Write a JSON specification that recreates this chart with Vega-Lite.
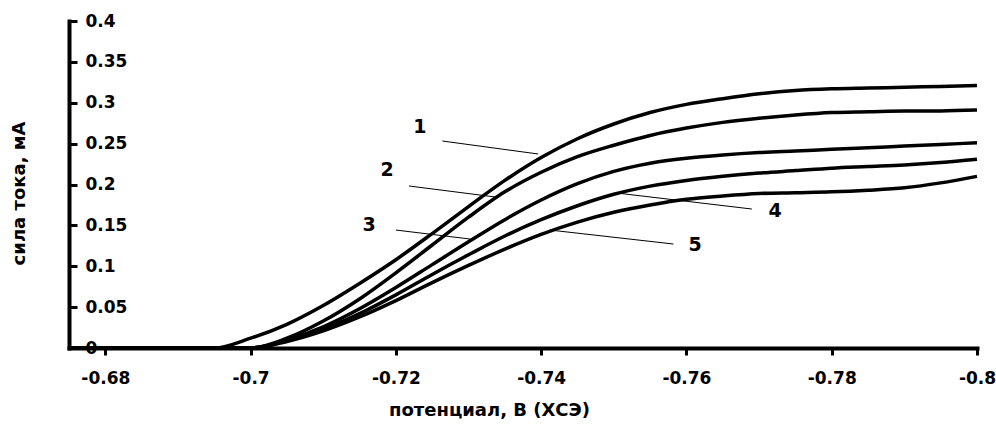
{
  "$schema": "https://vega.github.io/schema/vega-lite/v6.json",
  "width": 908,
  "height": 327,
  "autosize": {"type": "none"},
  "padding": {"left": 69, "top": 21, "right": 19, "bottom": 77},
  "config": {"view": {"stroke": null}, "font": "DejaVu Sans", "axis": {"grid": false}},
  "datasets": {
    "curves": [
      {"curve": "1", "potential": -0.675, "current": 0},
      {"curve": "1", "potential": -0.695, "current": 0},
      {"curve": "1", "potential": -0.700, "current": 0.012},
      {"curve": "1", "potential": -0.705, "current": 0.029},
      {"curve": "1", "potential": -0.710, "current": 0.052},
      {"curve": "1", "potential": -0.715, "current": 0.079},
      {"curve": "1", "potential": -0.720, "current": 0.108},
      {"curve": "1", "potential": -0.725, "current": 0.140},
      {"curve": "1", "potential": -0.730, "current": 0.173},
      {"curve": "1", "potential": -0.735, "current": 0.205},
      {"curve": "1", "potential": -0.740, "current": 0.233},
      {"curve": "1", "potential": -0.745, "current": 0.256},
      {"curve": "1", "potential": -0.750, "current": 0.274},
      {"curve": "1", "potential": -0.755, "current": 0.288},
      {"curve": "1", "potential": -0.760, "current": 0.298},
      {"curve": "1", "potential": -0.765, "current": 0.305},
      {"curve": "1", "potential": -0.770, "current": 0.311},
      {"curve": "1", "potential": -0.775, "current": 0.315},
      {"curve": "1", "potential": -0.780, "current": 0.317},
      {"curve": "1", "potential": -0.785, "current": 0.318},
      {"curve": "1", "potential": -0.790, "current": 0.319},
      {"curve": "1", "potential": -0.795, "current": 0.320},
      {"curve": "1", "potential": -0.800, "current": 0.321},
      {"curve": "2", "potential": -0.675, "current": 0},
      {"curve": "2", "potential": -0.700, "current": 0},
      {"curve": "2", "potential": -0.705, "current": 0.012},
      {"curve": "2", "potential": -0.710, "current": 0.033},
      {"curve": "2", "potential": -0.715, "current": 0.060},
      {"curve": "2", "potential": -0.720, "current": 0.092},
      {"curve": "2", "potential": -0.725, "current": 0.126},
      {"curve": "2", "potential": -0.730, "current": 0.160},
      {"curve": "2", "potential": -0.735, "current": 0.191},
      {"curve": "2", "potential": -0.740, "current": 0.215},
      {"curve": "2", "potential": -0.745, "current": 0.234},
      {"curve": "2", "potential": -0.750, "current": 0.248},
      {"curve": "2", "potential": -0.755, "current": 0.260},
      {"curve": "2", "potential": -0.760, "current": 0.269},
      {"curve": "2", "potential": -0.765, "current": 0.276},
      {"curve": "2", "potential": -0.770, "current": 0.281},
      {"curve": "2", "potential": -0.775, "current": 0.285},
      {"curve": "2", "potential": -0.780, "current": 0.288},
      {"curve": "2", "potential": -0.785, "current": 0.289},
      {"curve": "2", "potential": -0.790, "current": 0.290},
      {"curve": "2", "potential": -0.795, "current": 0.290},
      {"curve": "2", "potential": -0.800, "current": 0.291},
      {"curve": "3", "potential": -0.675, "current": 0},
      {"curve": "3", "potential": -0.700, "current": 0},
      {"curve": "3", "potential": -0.705, "current": 0.010},
      {"curve": "3", "potential": -0.710, "current": 0.026},
      {"curve": "3", "potential": -0.715, "current": 0.048},
      {"curve": "3", "potential": -0.720, "current": 0.074},
      {"curve": "3", "potential": -0.725, "current": 0.102},
      {"curve": "3", "potential": -0.730, "current": 0.130},
      {"curve": "3", "potential": -0.735, "current": 0.157},
      {"curve": "3", "potential": -0.740, "current": 0.181},
      {"curve": "3", "potential": -0.745, "current": 0.201},
      {"curve": "3", "potential": -0.750, "current": 0.216},
      {"curve": "3", "potential": -0.755, "current": 0.226},
      {"curve": "3", "potential": -0.760, "current": 0.232},
      {"curve": "3", "potential": -0.765, "current": 0.236},
      {"curve": "3", "potential": -0.770, "current": 0.239},
      {"curve": "3", "potential": -0.775, "current": 0.241},
      {"curve": "3", "potential": -0.780, "current": 0.243},
      {"curve": "3", "potential": -0.785, "current": 0.245},
      {"curve": "3", "potential": -0.790, "current": 0.247},
      {"curve": "3", "potential": -0.795, "current": 0.249},
      {"curve": "3", "potential": -0.800, "current": 0.251},
      {"curve": "4", "potential": -0.675, "current": 0},
      {"curve": "4", "potential": -0.700, "current": 0},
      {"curve": "4", "potential": -0.705, "current": 0.009},
      {"curve": "4", "potential": -0.710, "current": 0.023},
      {"curve": "4", "potential": -0.715, "current": 0.042},
      {"curve": "4", "potential": -0.720, "current": 0.065},
      {"curve": "4", "potential": -0.725, "current": 0.090},
      {"curve": "4", "potential": -0.730, "current": 0.114},
      {"curve": "4", "potential": -0.735, "current": 0.137},
      {"curve": "4", "potential": -0.740, "current": 0.157},
      {"curve": "4", "potential": -0.745, "current": 0.174},
      {"curve": "4", "potential": -0.750, "current": 0.188},
      {"curve": "4", "potential": -0.755, "current": 0.198},
      {"curve": "4", "potential": -0.760, "current": 0.205},
      {"curve": "4", "potential": -0.765, "current": 0.210},
      {"curve": "4", "potential": -0.770, "current": 0.214},
      {"curve": "4", "potential": -0.775, "current": 0.217},
      {"curve": "4", "potential": -0.780, "current": 0.220},
      {"curve": "4", "potential": -0.785, "current": 0.222},
      {"curve": "4", "potential": -0.790, "current": 0.224},
      {"curve": "4", "potential": -0.795, "current": 0.227},
      {"curve": "4", "potential": -0.800, "current": 0.231},
      {"curve": "5", "potential": -0.675, "current": 0},
      {"curve": "5", "potential": -0.700, "current": 0},
      {"curve": "5", "potential": -0.705, "current": 0.008},
      {"curve": "5", "potential": -0.710, "current": 0.021},
      {"curve": "5", "potential": -0.715, "current": 0.038},
      {"curve": "5", "potential": -0.720, "current": 0.058},
      {"curve": "5", "potential": -0.725, "current": 0.080},
      {"curve": "5", "potential": -0.730, "current": 0.101},
      {"curve": "5", "potential": -0.735, "current": 0.121},
      {"curve": "5", "potential": -0.740, "current": 0.139},
      {"curve": "5", "potential": -0.745, "current": 0.154},
      {"curve": "5", "potential": -0.750, "current": 0.166},
      {"curve": "5", "potential": -0.755, "current": 0.175},
      {"curve": "5", "potential": -0.760, "current": 0.182},
      {"curve": "5", "potential": -0.765, "current": 0.186},
      {"curve": "5", "potential": -0.770, "current": 0.189},
      {"curve": "5", "potential": -0.775, "current": 0.190},
      {"curve": "5", "potential": -0.780, "current": 0.191},
      {"curve": "5", "potential": -0.785, "current": 0.193},
      {"curve": "5", "potential": -0.790, "current": 0.196},
      {"curve": "5", "potential": -0.795, "current": 0.202},
      {"curve": "5", "potential": -0.800, "current": 0.210}
    ],
    "leaders": [
      {"x1": -0.7264, "y1": 0.2532, "x2": -0.7396, "y2": 0.2373},
      {"x1": -0.7218, "y1": 0.1982, "x2": -0.7337, "y2": 0.1847},
      {"x1": -0.7200, "y1": 0.1443, "x2": -0.7302, "y2": 0.1333},
      {"x1": -0.7504, "y1": 0.1896, "x2": -0.7690, "y2": 0.1700},
      {"x1": -0.7412, "y1": 0.1443, "x2": -0.7582, "y2": 0.1272}
    ],
    "labels": [
      {"label": "1", "x": -0.7233, "y": 0.2703},
      {"label": "2", "x": -0.7188, "y": 0.2177},
      {"label": "3", "x": -0.7163, "y": 0.1505},
      {"label": "4", "x": -0.7722, "y": 0.1676},
      {"label": "5", "x": -0.7612, "y": 0.1260}
    ]
  },
  "layer": [
    {
      "data": {"name": "curves"},
      "mark": {"type": "line", "color": "black", "strokeWidth": 3.5, "interpolate": "monotone"},
      "encoding": {
        "x": {
          "field": "potential", "type": "quantitative",
          "scale": {"domain": [-0.8, -0.675], "reverse": true, "nice": false, "zero": false},
          "axis": {
            "orient": "bottom",
            "values": [-0.68, -0.7, -0.72, -0.74, -0.76, -0.78, -0.8],
            "labelExpr": "'' + datum.value",
            "domainWidth": 4, "domainColor": "black", "domainCap": "square",
            "tickColor": "black", "tickWidth": 3, "tickSize": 7,
            "labelFont": "DejaVu Sans", "labelFontWeight": "bold", "labelFontSize": 17, "labelColor": "black",
            "labelPadding": 15, "labelFlush": false, "labelOverlap": false,
            "title": "потенциал, В (ХСЭ)",
            "titleFont": "DejaVu Sans", "titleFontSize": 18, "titleFontWeight": "bold", "titleColor": "black",
            "titleX": 420, "titleY": 62, "titleBaseline": "middle", "titleAlign": "center"
          }
        },
        "y": {
          "field": "current", "type": "quantitative",
          "scale": {"domain": [0, 0.4], "nice": false, "zero": true},
          "axis": {
            "orient": "right", "offset": -908,
            "values": [0, 0.05, 0.1, 0.15, 0.2, 0.25, 0.3, 0.35, 0.4],
            "labelExpr": "'' + datum.value",
            "domainWidth": 4, "domainColor": "black", "domainCap": "square",
            "tickColor": "black", "tickWidth": 3, "tickSize": 8,
            "labelFont": "DejaVu Sans", "labelFontWeight": "bold", "labelFontSize": 17, "labelColor": "black",
            "labelPadding": 8, "labelAlign": "left", "labelBaseline": "middle", "labelOverlap": false, "labelFlush": false,
            "title": "сила тока, мА",
            "titleFont": "DejaVu Sans", "titleFontSize": 18, "titleFontWeight": "bold", "titleColor": "black",
            "titleAngle": 270, "titleX": -50, "titleY": 172, "titleBaseline": "middle", "titleAlign": "center"
          }
        },
        "detail": {"field": "curve"}
      }
    },
    {
      "data": {"name": "leaders"},
      "mark": {"type": "rule", "color": "black", "strokeWidth": 1},
      "encoding": {
        "x": {"field": "x1", "type": "quantitative"},
        "y": {"field": "y1", "type": "quantitative"},
        "x2": {"field": "x2"},
        "y2": {"field": "y2"}
      }
    },
    {
      "data": {"name": "labels"},
      "mark": {"type": "text", "font": "DejaVu Sans", "fontWeight": "bold", "fontSize": 19, "color": "black", "align": "center", "baseline": "middle"},
      "encoding": {
        "x": {"field": "x", "type": "quantitative"},
        "y": {"field": "y", "type": "quantitative"},
        "text": {"field": "label"}
      }
    }
  ]
}
